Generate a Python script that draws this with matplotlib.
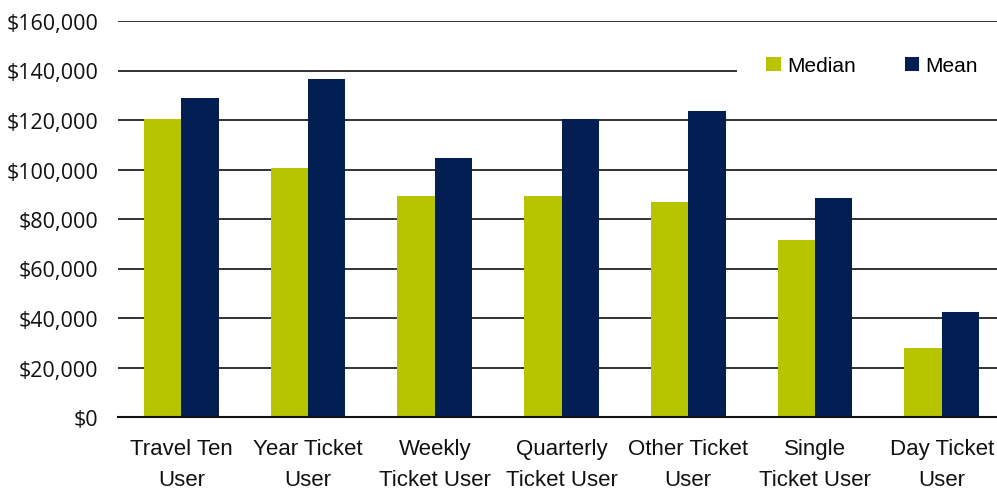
import matplotlib
matplotlib.use("Agg")
import matplotlib.pyplot as plt
import numpy as np
from matplotlib.ticker import FuncFormatter
from matplotlib.patches import Patch

categories = ["Travel Ten\nUser", "Year Ticket\nUser", "Weekly\nTicket User",
              "Quarterly\nTicket User", "Other Ticket\nUser", "Single\nTicket User",
              "Day Ticket\nUser"]
median = [120500, 100700, 89400, 89400, 86900, 71600, 28000]
mean = [129000, 136700, 104700, 120500, 123700, 88600, 42500]
yticks = [0, 20000, 40000, 60000, 80000, 100000, 120000, 140000, 160000]

green = "#B7C400"
navy = "#021E52"

fig = plt.figure(figsize=(9.97, 4.89), dpi=100)
ax = fig.add_axes([118/997, 1-418/489, (1005-118)/997, (418-22)/489])

x = np.arange(len(categories))
w = 0.295
ax.bar(x - w/2, median, width=w, color=green, zorder=3, label="Median")
ax.bar(x + w/2, mean, width=w, color=navy, zorder=3, label="Mean")

ax.set_xlim(-0.5, len(categories) - 0.5)
ax.set_ylim(0, 160000)
ax.set_yticks(yticks)
ax.yaxis.set_major_formatter(FuncFormatter(lambda v, p: "${:,.0f}".format(v)))
ax.grid(axis="y", color="#222222", linewidth=1.3, zorder=0)
ax.set_axisbelow(True)
for s in ["left", "right", "top"]:
    ax.spines[s].set_visible(False)
ax.spines["bottom"].set_color("#111111")
ax.spines["bottom"].set_linewidth(1.5)
ax.spines["bottom"].set_zorder(4)
ax.tick_params(axis="both", length=0)
ax.tick_params(axis="y", pad=14)
ax.tick_params(axis="x", pad=15)
ax.set_xticks(x)
ax.set_xticklabels(categories, fontsize=16, family="Liberation Sans", color="#111111",
                   linespacing=1.62)
for lab in ax.get_yticklabels():
    lab.set_fontsize(15.5)
    lab.set_family("Open Sans")
    lab.set_color("#111111")

handles = [Patch(facecolor=green, edgecolor="none"), Patch(facecolor=navy, edgecolor="none")]
leg = fig.legend(handles, ["Median", "Mean"], loc="upper left",
                 bbox_to_anchor=(737/997, 1-28/489), ncol=2, frameon=True,
                 facecolor="white", edgecolor="none", framealpha=1, fancybox=False,
                 prop={"family": "Liberation Sans", "size": 15},
                 handlelength=0.7, handleheight=0.7, handletextpad=0.3,
                 columnspacing=2.35, borderpad=1.4, borderaxespad=0)
leg.set_zorder(5)

fig.savefig("out.png", dpi=100)
